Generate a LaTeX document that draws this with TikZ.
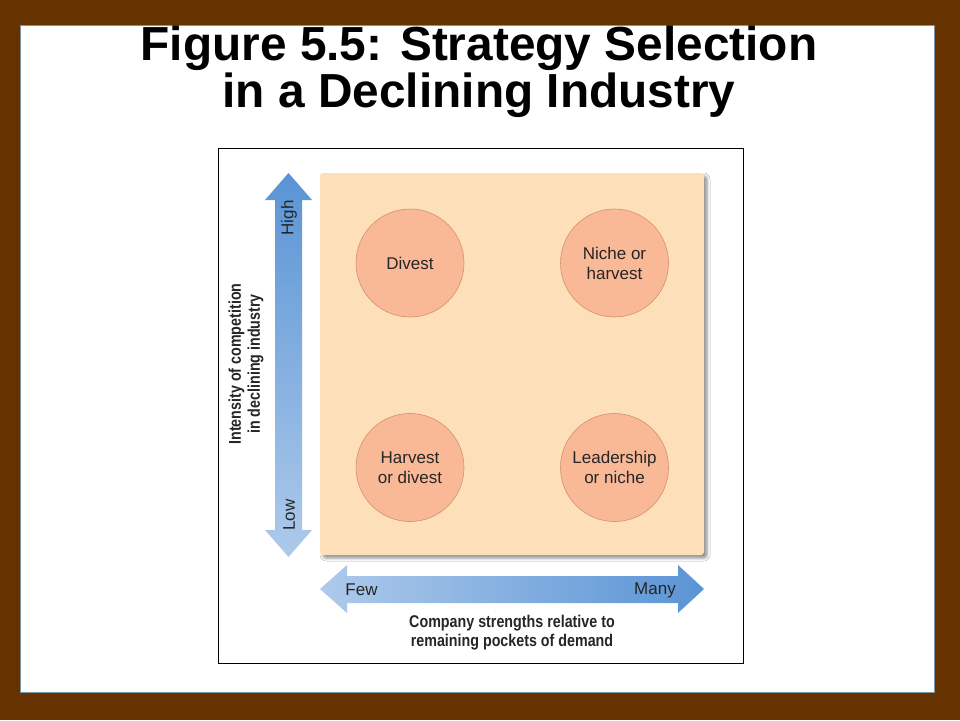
\documentclass[tikz,border=0pt]{standalone}
\usepackage{fontspec}
\setmainfont{Liberation Sans}
\newfontfamily\condsans{Liberation Sans}[FakeStretch=0.84]
\usetikzlibrary{shadows.blur}
\definecolor{framebrown}{HTML}{663300}
\definecolor{paneledge}{HTML}{7A96A4}
\definecolor{peach}{HTML}{FDE0BA}
\definecolor{circfill}{HTML}{F9B896}
\definecolor{circdraw}{HTML}{D4906E}
\definecolor{bluedark}{HTML}{5A94D5}
\definecolor{bluelight}{HTML}{AECAEB}
\definecolor{txt}{HTML}{262626}
\tikzset{
  circ/.style={circle, fill=circfill, draw=circdraw, line width=0.6pt, minimum size=108pt, inner sep=0pt,
    align=center, text=txt, font=\fontsize{17}{20}\selectfont},
  axistext/.style={text=txt, font=\fontsize{17}{20}\selectfont, inner sep=0pt},
  axislabel/.style={text=txt, align=center, inner sep=0pt, font=\condsans\bfseries\fontsize{17}{19}\selectfont},
  titletext/.style={font=\bfseries\fontsize{47.8}{46}\selectfont, inner sep=0pt, anchor=base}
}
\begin{document}
\begin{tikzpicture}[x=1pt,y=-1pt]
\useasboundingbox (0,0) rectangle (960,720);
\fill[framebrown] (0,0) rectangle (960,720);
\fill[white, draw=paneledge, line width=1pt] (20,25) rectangle (934,692);
% title
\node[titletext] (title1) at (479,60) {Figure 5.5: Strategy Selection};
\node[titletext] (title2) at (479,107) {in a Declining Industry};
% frame
\draw[black, line width=0.9pt] (218,148) rectangle (743,663);
% peach square
\fill[peach, rounded corners=3pt, blur shadow={shadow xshift=3pt, shadow yshift=-3pt, shadow blur radius=3pt, shadow opacity=45}]
  (320,173) rectangle (704,555);
% circles
\node[circ] (divest) at (410,263) {Divest};
\node[circ] (niche) at (614.5,263) {Niche or\\harvest};
\node[circ] (harvest) at (410,467.5) {Harvest\\or divest};
\node[circ] (leader) at (614.5,467.5) {Leadership\\or niche};
% vertical arrow
\shade[top color=bluedark, bottom color=bluelight]
  (288.5,173) -- (312,200) -- (302,200) -- (302,530) -- (312,530) -- (288.5,557)
  -- (265,530) -- (275,530) -- (275,200) -- (265,200) -- cycle;
% horizontal arrow
\shade[left color=bluelight, right color=bluedark]
  (320,589) -- (347,565) -- (347,576) -- (678,576) -- (678,565) -- (704,589)
  -- (678,613) -- (678,603) -- (347,603) -- (347,613) -- cycle;
% axis texts
\node[axistext, rotate=90] (high) at (289,218) {High};
\node[axistext, rotate=90] (low) at (289,515) {Low};
\node[axistext] (few) at (361.5,590) {Few};
\node[axistext] (many) at (655,590) {Many};
% axis labels
\node[axislabel, rotate=90] (ylab) at (246,364) {Intensity of competition\\in declining industry};
\node[axislabel] (xlab) at (512,633) {Company strengths relative to\\remaining pockets of demand};
\end{tikzpicture}
\end{document}
